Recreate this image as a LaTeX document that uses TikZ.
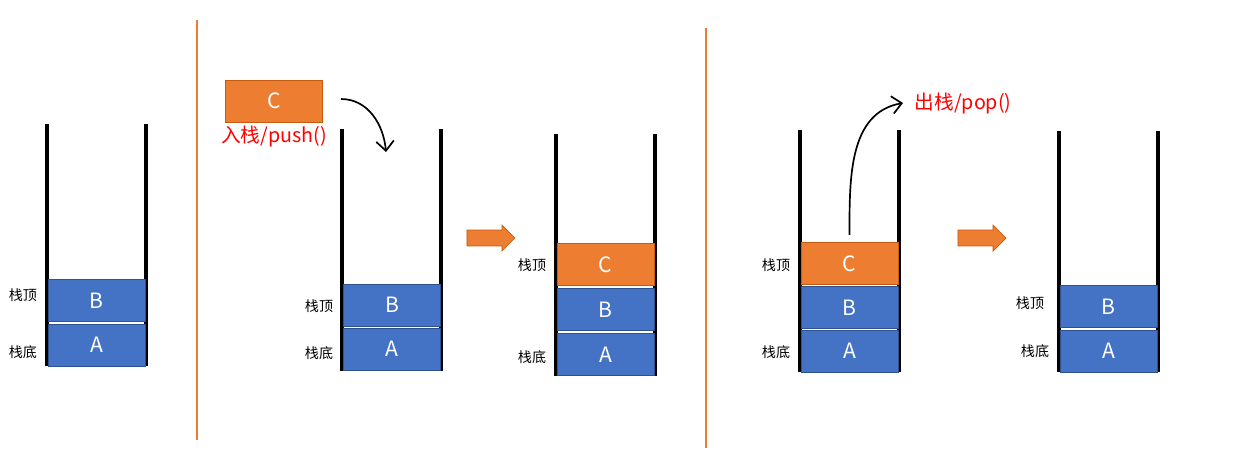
\documentclass[tikz,border=0pt]{standalone}
\usepackage{fontspec}
\setmainfont{Noto Sans CJK SC}
\usepackage{xcolor}
\usepackage{tikz}
\usetikzlibrary{arrows.meta,positioning,shapes.arrows}

\definecolor{cellBlue}{HTML}{4472C4}
\definecolor{cellBlueEdge}{HTML}{2F528F}
\definecolor{cellOrange}{HTML}{ED7D31}
\definecolor{cellOrangeEdge}{HTML}{C55A11}
\definecolor{opRed}{HTML}{FF0000}

\begin{document}
\begin{tikzpicture}[
    x=0.025cm, y=-0.025cm,
    >={Straight Barb[length=2.4mm, width=4.4mm]},
    wall/.style={line width=2.2pt},
    divider/.style={draw=cellOrange, line width=0.8pt},
    cell/.style={minimum width=2.425cm, minimum height=1.05cm, inner sep=0pt,
      text=white, font=\fontsize{15}{18}\selectfont},
    bluecell/.style={cell, fill=cellBlue, draw=cellBlueEdge, line width=0.6pt},
    orangecell/.style={cell, fill=cellOrange, draw=cellOrangeEdge, line width=0.6pt},
    tag/.style={font=\fontsize{10}{12}\selectfont, inner sep=1pt},
    optext/.style={text=opRed, font=\fontsize{14}{16}\selectfont, inner sep=1pt},
    steparrow/.style={single arrow, fill=cellOrange, draw=cellOrangeEdge, line width=0.5pt,
      minimum height=1.2cm, minimum width=0pt, inner xsep=0pt, inner ysep=0.19cm,
      single arrow head extend=0.125cm},
    curved/.style={->, line width=1.2pt},
  ]
  \useasboundingbox (0,0) rectangle (1233,456);

  % separators between the three steps
  \draw[divider] (197,20) -- (197,440);
  \draw[divider] (706,28) -- (706,448);

  % stack 1: start
  \draw[wall] (47,124) -- (47,366);
  \draw[wall] (146,124) -- (146,366);
  \node[bluecell] (b1) at (96.5,300.5) {B};
  \node[bluecell] (a1) at (96.5,345) {A};
  \node[tag] (top1) at (23,295) {栈顶};
  \node[tag] (bot1) at (23,352) {栈底};

  % stack 2: push C
  \draw[wall] (342,129) -- (342,371);
  \draw[wall] (441,129) -- (441,371);
  \node[bluecell] (b2) at (392,305) {B};
  \node[bluecell] (a2) at (392,349) {A};
  \node[tag] (top2) at (319,306) {栈顶};
  \node[tag] (bot2) at (319,353) {栈底};
  \node[orangecell] (c0) at (274,101) {C};
  \node[optext, below=1pt of c0] (push) {入栈/push()};
  \coordinate (pushfrom) at (341,99);
  \coordinate (pushto) at (386,152);
  \draw[curved] (pushfrom) to[out=0, in=95] (pushto);

  \node[steparrow] (go1) at (487,238) {};

  % stack 3: after push
  \draw[wall] (556,134) -- (556,376);
  \draw[wall] (655,134) -- (655,376);
  \node[orangecell] (c3) at (605.5,264.5) {C};
  \node[bluecell] (b3) at (605.5,309.5) {B};
  \node[bluecell] (a3) at (605.5,354.5) {A};
  \node[tag] (top3) at (532,265) {栈顶};
  \node[tag] (bot3) at (532,357) {栈底};

  % stack 4: pop C
  \draw[wall] (800,130) -- (800,372);
  \draw[wall] (899,130) -- (899,372);
  \node[orangecell] (c4) at (849.5,263.5) {C};
  \node[bluecell] (b4) at (849.5,307.5) {B};
  \node[bluecell] (a4) at (849.5,351) {A};
  \node[tag] (top4) at (776,265) {栈顶};
  \node[tag] (bot4) at (776,352) {栈底};
  \coordinate (popto) at (903,103);
  \draw[curved] ([yshift=0.18cm]c4.north) to[out=90, in=190] (popto);
  \node[optext, right=0.25cm of popto] (pop) {出栈/pop()};

  \node[steparrow] (go2) at (978,238) {};

  % stack 5: after pop
  \draw[wall] (1059,131) -- (1059,372);
  \draw[wall] (1158,131) -- (1158,372);
  \node[bluecell] (b5) at (1108.5,306.5) {B};
  \node[bluecell] (a5) at (1108.5,351) {A};
  \node[tag] (top5) at (1030,303) {栈顶};
  \node[tag] (bot5) at (1035,351) {栈底};
\end{tikzpicture}
\end{document}
